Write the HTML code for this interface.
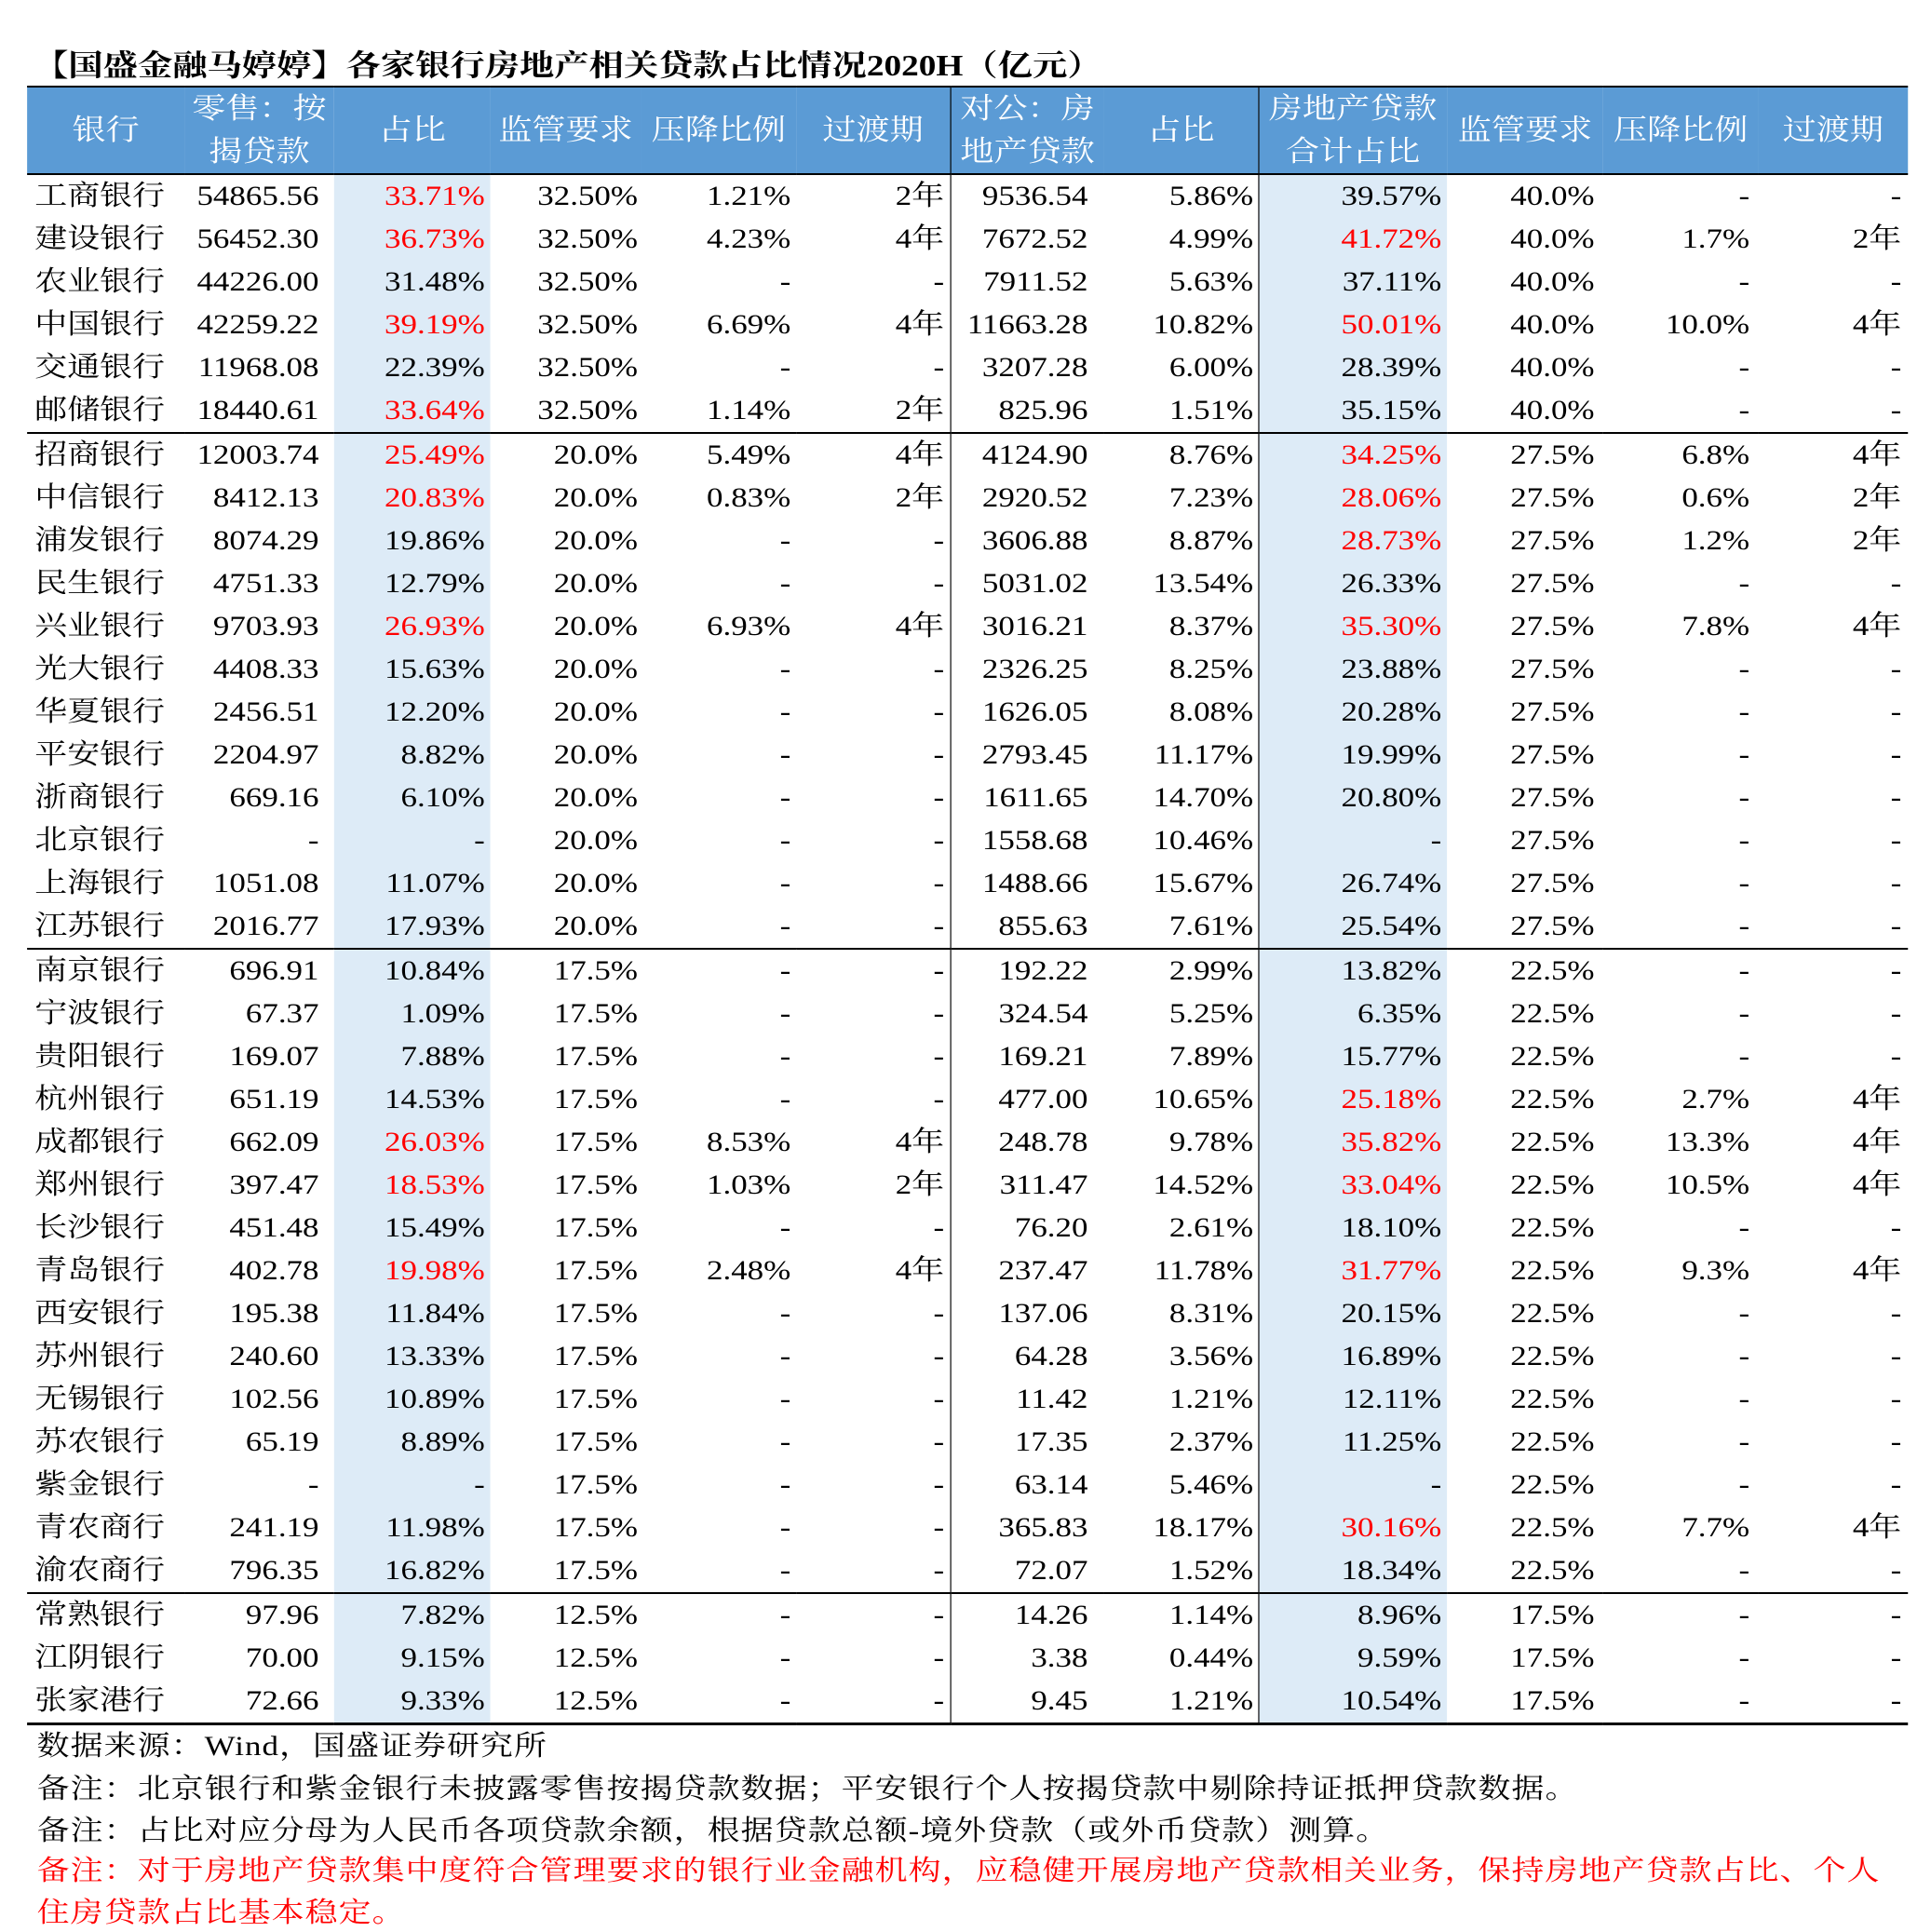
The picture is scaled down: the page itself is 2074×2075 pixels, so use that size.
<!DOCTYPE html>
<html><head><meta charset="utf-8">
<style>
html,body{margin:0;padding:0;background:#fff;width:2074px;height:2062px;overflow:hidden}
#w{position:absolute;left:0;top:0;width:1780px;height:2062px;transform:scaleX(1.165);transform-origin:0 0;
font-family:"Liberation Serif","Noto Serif CJK SC",serif;color:#000}
.title{position:absolute;left:31px;top:50px;font-size:32px;font-weight:bold;line-height:40px;white-space:nowrap}
table{position:absolute;left:25px;top:92px;border-collapse:collapse;table-layout:fixed;width:1734px}
td{padding:0;font-size:30px;line-height:30px;white-space:nowrap;text-align:right;overflow:visible}
tr.b td{height:46px}
tr.h td{height:88px;background:#5b9bd5;color:#fff;text-align:center;line-height:46px;font-size:31px;border-top:2px solid #000;border-bottom:2px solid #000}
tr.b td:nth-child(1){text-align:left;padding-left:7px}
tr.b td:nth-child(2){padding-right:14px}
tr.b td:nth-child(3){padding-right:5px;background:#ddebf7}
tr.b td:nth-child(4){padding-right:3px}
tr.b td:nth-child(5){padding-right:5px}
tr.b td:nth-child(6){padding-right:5px}
tr.b td:nth-child(7){padding-right:15px;border-left:1px solid #000}
tr.b td:nth-child(8){padding-right:4px}
tr.b td:nth-child(9){padding-right:5px;background:#ddebf7;border-left:1px solid #000}
tr.b td:nth-child(10){padding-right:8px}
tr.b td:nth-child(11){padding-right:8px}
tr.b td:nth-child(12){padding-right:6px}
tr.h td:nth-child(7),tr.h td:nth-child(9){border-left:1px solid #000}
tr.s td{border-top:2px solid #000}
tr.l td{border-bottom:3px solid #000}
.r{color:#ff0000}
.fn{position:absolute;left:34px;font-size:30px;letter-spacing:0.9px;line-height:40px;white-space:nowrap}
</style></head><body><div id="w">
<div class="title">【国盛金融马婷婷】各家银行房地产相关贷款占比情况2020H（亿元）</div>
<table>
<colgroup><col style="width:145px"><col style="width:138px"><col style="width:144px"><col style="width:139px"><col style="width:143px"><col style="width:142px"><col style="width:142px"><col style="width:142px"><col style="width:174px"><col style="width:144px"><col style="width:143px"><col style="width:138px"></colgroup>
<tr class="h"><td>银行</td><td>零售：按<br>揭贷款</td><td>占比</td><td>监管要求</td><td>压降比例</td><td>过渡期</td><td>对公：房<br>地产贷款</td><td>占比</td><td>房地产贷款<br>合计占比</td><td>监管要求</td><td>压降比例</td><td>过渡期</td></tr>
<tr class="b"><td>工商银行</td><td>54865.56</td><td class="r">33.71%</td><td>32.50%</td><td>1.21%</td><td>2年</td><td>9536.54</td><td>5.86%</td><td>39.57%</td><td>40.0%</td><td>-</td><td>-</td></tr>
<tr class="b"><td>建设银行</td><td>56452.30</td><td class="r">36.73%</td><td>32.50%</td><td>4.23%</td><td>4年</td><td>7672.52</td><td>4.99%</td><td class="r">41.72%</td><td>40.0%</td><td>1.7%</td><td>2年</td></tr>
<tr class="b"><td>农业银行</td><td>44226.00</td><td>31.48%</td><td>32.50%</td><td>-</td><td>-</td><td>7911.52</td><td>5.63%</td><td>37.11%</td><td>40.0%</td><td>-</td><td>-</td></tr>
<tr class="b"><td>中国银行</td><td>42259.22</td><td class="r">39.19%</td><td>32.50%</td><td>6.69%</td><td>4年</td><td>11663.28</td><td>10.82%</td><td class="r">50.01%</td><td>40.0%</td><td>10.0%</td><td>4年</td></tr>
<tr class="b"><td>交通银行</td><td>11968.08</td><td>22.39%</td><td>32.50%</td><td>-</td><td>-</td><td>3207.28</td><td>6.00%</td><td>28.39%</td><td>40.0%</td><td>-</td><td>-</td></tr>
<tr class="b"><td>邮储银行</td><td>18440.61</td><td class="r">33.64%</td><td>32.50%</td><td>1.14%</td><td>2年</td><td>825.96</td><td>1.51%</td><td>35.15%</td><td>40.0%</td><td>-</td><td>-</td></tr>
<tr class="b s"><td>招商银行</td><td>12003.74</td><td class="r">25.49%</td><td>20.0%</td><td>5.49%</td><td>4年</td><td>4124.90</td><td>8.76%</td><td class="r">34.25%</td><td>27.5%</td><td>6.8%</td><td>4年</td></tr>
<tr class="b"><td>中信银行</td><td>8412.13</td><td class="r">20.83%</td><td>20.0%</td><td>0.83%</td><td>2年</td><td>2920.52</td><td>7.23%</td><td class="r">28.06%</td><td>27.5%</td><td>0.6%</td><td>2年</td></tr>
<tr class="b"><td>浦发银行</td><td>8074.29</td><td>19.86%</td><td>20.0%</td><td>-</td><td>-</td><td>3606.88</td><td>8.87%</td><td class="r">28.73%</td><td>27.5%</td><td>1.2%</td><td>2年</td></tr>
<tr class="b"><td>民生银行</td><td>4751.33</td><td>12.79%</td><td>20.0%</td><td>-</td><td>-</td><td>5031.02</td><td>13.54%</td><td>26.33%</td><td>27.5%</td><td>-</td><td>-</td></tr>
<tr class="b"><td>兴业银行</td><td>9703.93</td><td class="r">26.93%</td><td>20.0%</td><td>6.93%</td><td>4年</td><td>3016.21</td><td>8.37%</td><td class="r">35.30%</td><td>27.5%</td><td>7.8%</td><td>4年</td></tr>
<tr class="b"><td>光大银行</td><td>4408.33</td><td>15.63%</td><td>20.0%</td><td>-</td><td>-</td><td>2326.25</td><td>8.25%</td><td>23.88%</td><td>27.5%</td><td>-</td><td>-</td></tr>
<tr class="b"><td>华夏银行</td><td>2456.51</td><td>12.20%</td><td>20.0%</td><td>-</td><td>-</td><td>1626.05</td><td>8.08%</td><td>20.28%</td><td>27.5%</td><td>-</td><td>-</td></tr>
<tr class="b"><td>平安银行</td><td>2204.97</td><td>8.82%</td><td>20.0%</td><td>-</td><td>-</td><td>2793.45</td><td>11.17%</td><td>19.99%</td><td>27.5%</td><td>-</td><td>-</td></tr>
<tr class="b"><td>浙商银行</td><td>669.16</td><td>6.10%</td><td>20.0%</td><td>-</td><td>-</td><td>1611.65</td><td>14.70%</td><td>20.80%</td><td>27.5%</td><td>-</td><td>-</td></tr>
<tr class="b"><td>北京银行</td><td>-</td><td>-</td><td>20.0%</td><td>-</td><td>-</td><td>1558.68</td><td>10.46%</td><td>-</td><td>27.5%</td><td>-</td><td>-</td></tr>
<tr class="b"><td>上海银行</td><td>1051.08</td><td>11.07%</td><td>20.0%</td><td>-</td><td>-</td><td>1488.66</td><td>15.67%</td><td>26.74%</td><td>27.5%</td><td>-</td><td>-</td></tr>
<tr class="b"><td>江苏银行</td><td>2016.77</td><td>17.93%</td><td>20.0%</td><td>-</td><td>-</td><td>855.63</td><td>7.61%</td><td>25.54%</td><td>27.5%</td><td>-</td><td>-</td></tr>
<tr class="b s"><td>南京银行</td><td>696.91</td><td>10.84%</td><td>17.5%</td><td>-</td><td>-</td><td>192.22</td><td>2.99%</td><td>13.82%</td><td>22.5%</td><td>-</td><td>-</td></tr>
<tr class="b"><td>宁波银行</td><td>67.37</td><td>1.09%</td><td>17.5%</td><td>-</td><td>-</td><td>324.54</td><td>5.25%</td><td>6.35%</td><td>22.5%</td><td>-</td><td>-</td></tr>
<tr class="b"><td>贵阳银行</td><td>169.07</td><td>7.88%</td><td>17.5%</td><td>-</td><td>-</td><td>169.21</td><td>7.89%</td><td>15.77%</td><td>22.5%</td><td>-</td><td>-</td></tr>
<tr class="b"><td>杭州银行</td><td>651.19</td><td>14.53%</td><td>17.5%</td><td>-</td><td>-</td><td>477.00</td><td>10.65%</td><td class="r">25.18%</td><td>22.5%</td><td>2.7%</td><td>4年</td></tr>
<tr class="b"><td>成都银行</td><td>662.09</td><td class="r">26.03%</td><td>17.5%</td><td>8.53%</td><td>4年</td><td>248.78</td><td>9.78%</td><td class="r">35.82%</td><td>22.5%</td><td>13.3%</td><td>4年</td></tr>
<tr class="b"><td>郑州银行</td><td>397.47</td><td class="r">18.53%</td><td>17.5%</td><td>1.03%</td><td>2年</td><td>311.47</td><td>14.52%</td><td class="r">33.04%</td><td>22.5%</td><td>10.5%</td><td>4年</td></tr>
<tr class="b"><td>长沙银行</td><td>451.48</td><td>15.49%</td><td>17.5%</td><td>-</td><td>-</td><td>76.20</td><td>2.61%</td><td>18.10%</td><td>22.5%</td><td>-</td><td>-</td></tr>
<tr class="b"><td>青岛银行</td><td>402.78</td><td class="r">19.98%</td><td>17.5%</td><td>2.48%</td><td>4年</td><td>237.47</td><td>11.78%</td><td class="r">31.77%</td><td>22.5%</td><td>9.3%</td><td>4年</td></tr>
<tr class="b"><td>西安银行</td><td>195.38</td><td>11.84%</td><td>17.5%</td><td>-</td><td>-</td><td>137.06</td><td>8.31%</td><td>20.15%</td><td>22.5%</td><td>-</td><td>-</td></tr>
<tr class="b"><td>苏州银行</td><td>240.60</td><td>13.33%</td><td>17.5%</td><td>-</td><td>-</td><td>64.28</td><td>3.56%</td><td>16.89%</td><td>22.5%</td><td>-</td><td>-</td></tr>
<tr class="b"><td>无锡银行</td><td>102.56</td><td>10.89%</td><td>17.5%</td><td>-</td><td>-</td><td>11.42</td><td>1.21%</td><td>12.11%</td><td>22.5%</td><td>-</td><td>-</td></tr>
<tr class="b"><td>苏农银行</td><td>65.19</td><td>8.89%</td><td>17.5%</td><td>-</td><td>-</td><td>17.35</td><td>2.37%</td><td>11.25%</td><td>22.5%</td><td>-</td><td>-</td></tr>
<tr class="b"><td>紫金银行</td><td>-</td><td>-</td><td>17.5%</td><td>-</td><td>-</td><td>63.14</td><td>5.46%</td><td>-</td><td>22.5%</td><td>-</td><td>-</td></tr>
<tr class="b"><td>青农商行</td><td>241.19</td><td>11.98%</td><td>17.5%</td><td>-</td><td>-</td><td>365.83</td><td>18.17%</td><td class="r">30.16%</td><td>22.5%</td><td>7.7%</td><td>4年</td></tr>
<tr class="b"><td>渝农商行</td><td>796.35</td><td>16.82%</td><td>17.5%</td><td>-</td><td>-</td><td>72.07</td><td>1.52%</td><td>18.34%</td><td>22.5%</td><td>-</td><td>-</td></tr>
<tr class="b s"><td>常熟银行</td><td>97.96</td><td>7.82%</td><td>12.5%</td><td>-</td><td>-</td><td>14.26</td><td>1.14%</td><td>8.96%</td><td>17.5%</td><td>-</td><td>-</td></tr>
<tr class="b"><td>江阴银行</td><td>70.00</td><td>9.15%</td><td>12.5%</td><td>-</td><td>-</td><td>3.38</td><td>0.44%</td><td>9.59%</td><td>17.5%</td><td>-</td><td>-</td></tr>
<tr class="b l"><td>张家港行</td><td>72.66</td><td>9.33%</td><td>12.5%</td><td>-</td><td>-</td><td>9.45</td><td>1.21%</td><td>10.54%</td><td>17.5%</td><td>-</td><td>-</td></tr>
</table>
<div class="fn" style="top:1856px">数据来源：Wind，国盛证券研究所</div>
<div class="fn" style="top:1902px">备注：北京银行和紫金银行未披露零售按揭贷款数据；平安银行个人按揭贷款中剔除持证抵押贷款数据。</div>
<div class="fn" style="top:1947px">备注：占比对应分母为人民币各项贷款余额，根据贷款总额-境外贷款（或外币贷款）测算。</div>
<div class="fn r" style="top:1990px">备注：对于房地产贷款集中度符合管理要求的银行业金融机构，应稳健开展房地产贷款相关业务，保持房地产贷款占比、个人</div>
<div class="fn r" style="top:2035px">住房贷款占比基本稳定。</div>
</div></body></html>
